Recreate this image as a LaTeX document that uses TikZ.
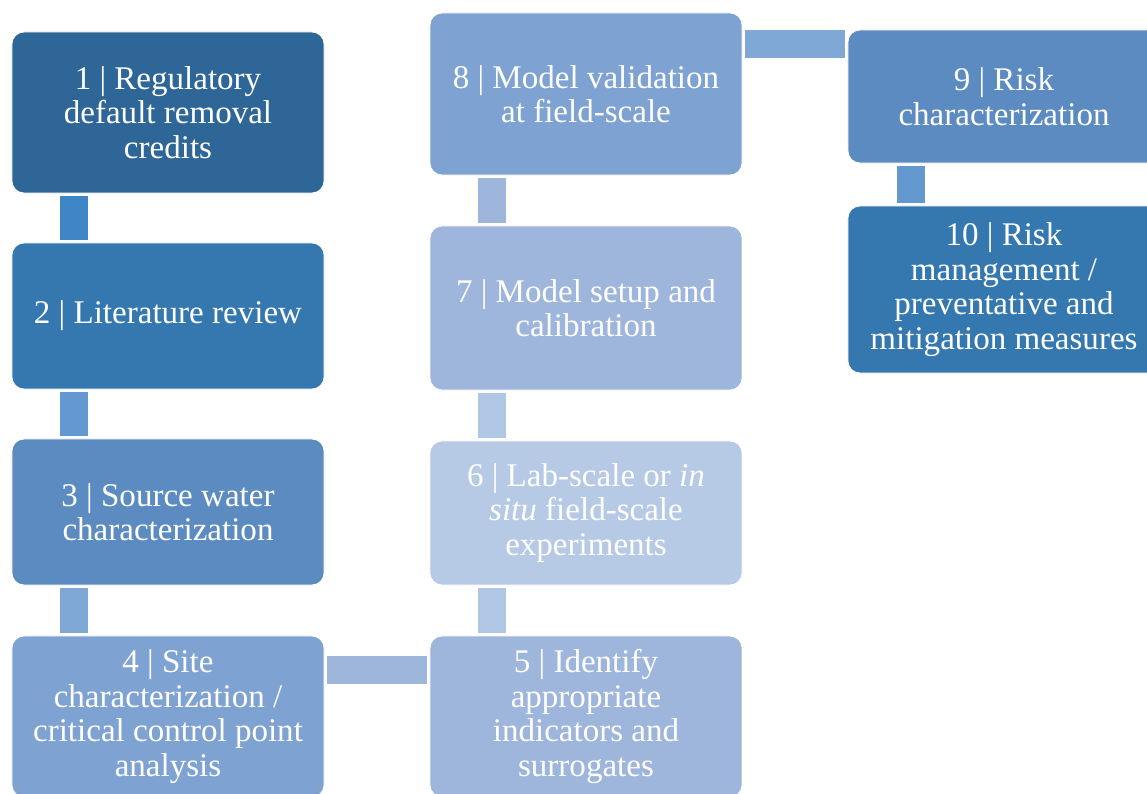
\documentclass[tikz,border=0pt]{standalone}
\usepackage{fontspec}
\setmainfont{Liberation Serif}
\usepackage{tikz}
\usetikzlibrary{positioning}

\definecolor{boxA}{HTML}{2E6698}
\definecolor{boxB}{HTML}{3578B0}
\definecolor{boxC}{HTML}{5B8BC0}
\definecolor{boxD}{HTML}{7EA2D2}
\definecolor{boxE}{HTML}{9EB6DC}
\definecolor{boxF}{HTML}{B7CAE5}
\definecolor{linkA}{HTML}{3E86C5}
\definecolor{linkB}{HTML}{6399D0}
\definecolor{linkC}{HTML}{80A8D6}
\definecolor{linkD}{HTML}{9EB6DC}
\definecolor{linkE}{HTML}{B0C6E5}

\begin{document}
\begin{tikzpicture}[x=0.025cm,y=-0.025cm,font=\fontsize{23.5}{24.6}\selectfont]
                \tikzstyle{box}=[rectangle, rounded corners=0.3cm, draw=white, line width=0.6pt, text=white, align=center, minimum width=7.8cm, inner sep=0pt]
                \tikzstyle{link}=[line width=0.7cm, shorten >=0.07cm, shorten <=0.07cm]

                \useasboundingbox (0,0) rectangle (1147,794);
                \clip (0,0) rectangle (1147,794);

                % left column
                \node[box, fill=boxA, minimum height=4.025cm] (b1) at (168,112.5) {1 | Regulatory\\default removal\\credits};
                \node[box, fill=boxB, minimum height=3.65cm]  (b2) at (168,316)   {2 | Literature review};
                \node[box, fill=boxC, minimum height=3.65cm]  (b3) at (168,512)   {3 | Source water\\characterization};
                \node[box, fill=boxD, minimum height=4.025cm] (b4) at (168,716.5) {4 | Site\\characterization /\\critical control point\\analysis};

                % middle column
                \node[box, fill=boxE, minimum height=4.025cm] (b5) at (586,716.5) {5 | Identify\\appropriate\\indicators and\\surrogates};
                \node[box, fill=boxF, minimum height=3.6cm]   (b6) at (586,513)   {6 | Lab-scale or \textit{in}\\\textit{situ} field-scale\\experiments};
                \node[box, fill=boxE, minimum height=4.1cm]   (b7) at (586,308)   {7 | Model setup and\\calibration};
                \node[box, fill=boxD, minimum height=4.05cm]  (b8) at (586,94)    {8 | Model validation\\at field-scale};

                % right column
                \node[box, fill=boxC, minimum height=3.325cm] (b9)  at (1004,96.5)  {9 | Risk\\characterization};
                \node[box, fill=boxB, minimum height=4.175cm] (b10) at (1004,289.5) {10 | Risk\\management /\\preventative and\\mitigation measures};

                % connectors
                \draw[link, linkA] ([xshift=1.55cm]b1.south west) -- ([xshift=1.55cm]b2.north west);
                \draw[link, linkB] ([xshift=1.55cm]b2.south west) -- ([xshift=1.55cm]b3.north west);
                \draw[link, linkC] ([xshift=1.55cm]b3.south west) -- ([xshift=1.55cm]b4.north west);
                \draw[link, linkD] ([yshift=-0.85cm]b4.north east) -- ([yshift=-0.85cm]b4.north east -| b5.west);
                \draw[link, linkE] ([xshift=1.55cm]b5.north west) -- ([xshift=1.55cm]b6.south west);
                \draw[link, linkE] ([xshift=1.55cm]b6.north west) -- ([xshift=1.55cm]b7.south west);
                \draw[link, linkD] ([xshift=1.55cm]b7.north west) -- ([xshift=1.55cm]b8.south west);
                \draw[link, linkC] ([yshift=-0.775cm]b8.north east) -- ([yshift=-0.775cm]b8.north east -| b9.west);
                \draw[link, linkB] ([xshift=1.575cm]b9.south west) -- ([xshift=1.575cm]b10.north west);
\end{tikzpicture}
\end{document}
